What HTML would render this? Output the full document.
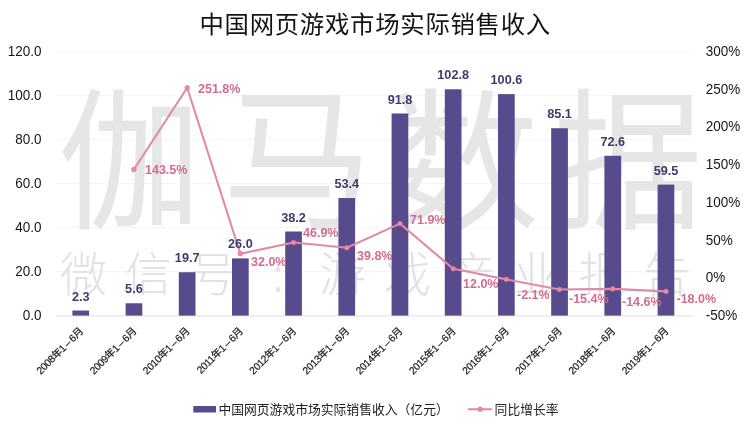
<!DOCTYPE html>
<html lang="zh"><head><meta charset="utf-8"><title>中国网页游戏市场实际销售收入</title>
<style>
html,body{margin:0;padding:0;background:#fff;}
body{width:750px;height:427px;overflow:hidden;font-family:"Liberation Sans","Noto Sans CJK SC",sans-serif;}
svg{display:block}
text{font-family:"Liberation Sans","Noto Sans CJK SC",sans-serif;}
.wm{font-family:"Noto Sans CJK SC",sans-serif;}
</style></head><body>
<svg width="750" height="427" viewBox="0 0 750 427">
<rect width="750" height="427" fill="#ffffff"/>
<line x1="56" x2="693" y1="51.4" y2="51.4" stroke="#f5f5f5" stroke-width="1"/>
<line x1="56" x2="693" y1="95.4" y2="95.4" stroke="#f5f5f5" stroke-width="1"/>
<line x1="56" x2="693" y1="139.5" y2="139.5" stroke="#f5f5f5" stroke-width="1"/>
<line x1="56" x2="693" y1="183.5" y2="183.5" stroke="#f5f5f5" stroke-width="1"/>
<line x1="56" x2="693" y1="227.5" y2="227.5" stroke="#f5f5f5" stroke-width="1"/>
<line x1="56" x2="693" y1="271.6" y2="271.6" stroke="#f5f5f5" stroke-width="1"/>
<line x1="56" x2="693" y1="315.6" y2="315.6" stroke="#f5f5f5" stroke-width="1"/>
<g transform="translate(0,217.3) scale(1,1.018)"><text class="wm" font-size="150" font-weight="400" fill="#e6e6e6"><tspan x="57.9" textLength="142.65" lengthAdjust="spacingAndGlyphs">伽</tspan><tspan x="221.9" font-size="153.4" textLength="151.2" lengthAdjust="spacingAndGlyphs">马</tspan><tspan x="385.3" textLength="154.5" lengthAdjust="spacingAndGlyphs">数</tspan><tspan x="553">据</tspan></text></g>
<text class="wm" x="83.5 148.3 213.1 277.9 342.7 407.5 472.3 537.1 601.9 666.7" y="291" text-anchor="middle" font-size="47" font-weight="300" fill="#e2e2e2">微信号:游戏产业报告</text>
<text x="375.2" y="33.2" text-anchor="middle" font-size="24.4" letter-spacing="0.72" fill="#141414">中国网页游戏市场实际销售收入</text>
<text transform="translate(41.4,319.8) scale(0.95,1)" text-anchor="end" font-size="14.2" fill="#161616">0.0</text>
<text transform="translate(41.4,275.8) scale(0.95,1)" text-anchor="end" font-size="14.2" fill="#161616">20.0</text>
<text transform="translate(41.4,231.7) scale(0.95,1)" text-anchor="end" font-size="14.2" fill="#161616">40.0</text>
<text transform="translate(41.4,187.7) scale(0.95,1)" text-anchor="end" font-size="14.2" fill="#161616">60.0</text>
<text transform="translate(41.4,143.7) scale(0.95,1)" text-anchor="end" font-size="14.2" fill="#161616">80.0</text>
<text transform="translate(41.4,99.6) scale(0.95,1)" text-anchor="end" font-size="14.2" fill="#161616">100.0</text>
<text transform="translate(41.4,55.6) scale(0.95,1)" text-anchor="end" font-size="14.2" fill="#161616">120.0</text>
<text transform="translate(705.8,320.0) scale(0.95,1)" font-size="14.2" fill="#161616">-50%</text>
<text transform="translate(705.8,282.3) scale(0.95,1)" font-size="14.2" fill="#161616">0%</text>
<text transform="translate(705.8,244.5) scale(0.95,1)" font-size="14.2" fill="#161616">50%</text>
<text transform="translate(705.8,206.8) scale(0.95,1)" font-size="14.2" fill="#161616">100%</text>
<text transform="translate(705.8,169.0) scale(0.95,1)" font-size="14.2" fill="#161616">150%</text>
<text transform="translate(705.8,131.3) scale(0.95,1)" font-size="14.2" fill="#161616">200%</text>
<text transform="translate(705.8,93.5) scale(0.95,1)" font-size="14.2" fill="#161616">250%</text>
<text transform="translate(705.8,55.8) scale(0.95,1)" font-size="14.2" fill="#161616">300%</text>
<line x1="56" x2="693" y1="315.9" y2="315.9" stroke="#e3e1ea" stroke-width="1"/>
<rect x="72.40" y="310.54" width="16.7" height="5.06" fill="#574a8d"/>
<rect x="125.60" y="303.27" width="16.7" height="12.33" fill="#574a8d"/>
<rect x="178.80" y="272.23" width="16.7" height="43.37" fill="#574a8d"/>
<rect x="232.00" y="258.36" width="16.7" height="57.24" fill="#574a8d"/>
<rect x="285.20" y="231.50" width="16.7" height="84.10" fill="#574a8d"/>
<rect x="338.40" y="198.03" width="16.7" height="117.57" fill="#574a8d"/>
<rect x="391.60" y="113.49" width="16.7" height="202.11" fill="#574a8d"/>
<rect x="444.80" y="89.27" width="16.7" height="226.33" fill="#574a8d"/>
<rect x="498.00" y="94.11" width="16.7" height="221.49" fill="#574a8d"/>
<rect x="551.20" y="128.24" width="16.7" height="187.36" fill="#574a8d"/>
<rect x="604.40" y="155.76" width="16.7" height="159.84" fill="#574a8d"/>
<rect x="657.60" y="184.60" width="16.7" height="131.00" fill="#574a8d"/>
<polyline points="133.9,169.5 187.2,87.8 240.4,253.7 293.6,242.5 346.8,247.8 400.0,223.6 453.2,268.8 506.4,279.4 559.5,289.5 612.8,288.9 666.0,291.4" fill="none" stroke="#df8ba7" stroke-width="2.1" stroke-linejoin="round" stroke-linecap="round"/>
<circle cx="133.9" cy="169.5" r="2.3" fill="#e58dab" stroke="#d97797" stroke-width="0.8"/>
<circle cx="187.2" cy="87.8" r="2.3" fill="#e58dab" stroke="#d97797" stroke-width="0.8"/>
<circle cx="240.4" cy="253.7" r="2.3" fill="#e58dab" stroke="#d97797" stroke-width="0.8"/>
<circle cx="293.6" cy="242.5" r="2.3" fill="#e58dab" stroke="#d97797" stroke-width="0.8"/>
<circle cx="346.8" cy="247.8" r="2.3" fill="#e58dab" stroke="#d97797" stroke-width="0.8"/>
<circle cx="400.0" cy="223.6" r="2.3" fill="#e58dab" stroke="#d97797" stroke-width="0.8"/>
<circle cx="453.2" cy="268.8" r="2.3" fill="#e58dab" stroke="#d97797" stroke-width="0.8"/>
<circle cx="506.4" cy="279.4" r="2.3" fill="#e58dab" stroke="#d97797" stroke-width="0.8"/>
<circle cx="559.5" cy="289.5" r="2.3" fill="#e58dab" stroke="#d97797" stroke-width="0.8"/>
<circle cx="612.8" cy="288.9" r="2.3" fill="#e58dab" stroke="#d97797" stroke-width="0.8"/>
<circle cx="666.0" cy="291.4" r="2.3" fill="#e58dab" stroke="#d97797" stroke-width="0.8"/>
<text x="80.8" y="300.5" text-anchor="middle" font-size="12.7" font-weight="bold" fill="#403a6c">2.3</text>
<text x="133.9" y="293.3" text-anchor="middle" font-size="12.7" font-weight="bold" fill="#403a6c">5.6</text>
<text x="187.2" y="262.2" text-anchor="middle" font-size="12.7" font-weight="bold" fill="#403a6c">19.7</text>
<text x="240.4" y="248.4" text-anchor="middle" font-size="12.7" font-weight="bold" fill="#403a6c">26.0</text>
<text x="293.6" y="221.5" text-anchor="middle" font-size="12.7" font-weight="bold" fill="#403a6c">38.2</text>
<text x="346.8" y="188.0" text-anchor="middle" font-size="12.7" font-weight="bold" fill="#403a6c">53.4</text>
<text x="400.0" y="103.5" text-anchor="middle" font-size="12.7" font-weight="bold" fill="#403a6c">91.8</text>
<text x="453.2" y="79.3" text-anchor="middle" font-size="12.7" font-weight="bold" fill="#403a6c">102.8</text>
<text x="506.4" y="84.1" text-anchor="middle" font-size="12.7" font-weight="bold" fill="#403a6c">100.6</text>
<text x="559.5" y="118.2" text-anchor="middle" font-size="12.7" font-weight="bold" fill="#403a6c">85.1</text>
<text x="612.8" y="145.8" text-anchor="middle" font-size="12.7" font-weight="bold" fill="#403a6c">72.6</text>
<text x="666.0" y="174.6" text-anchor="middle" font-size="12.7" font-weight="bold" fill="#403a6c">59.5</text>
<text x="145" y="174" text-anchor="start" font-size="12.5" font-weight="bold" fill="#d36c90">143.5%</text>
<text x="198" y="93" text-anchor="start" font-size="12.5" font-weight="bold" fill="#d36c90">251.8%</text>
<text x="251" y="266" text-anchor="start" font-size="12.5" font-weight="bold" fill="#d36c90">32.0%</text>
<text x="303" y="237" text-anchor="start" font-size="12.5" font-weight="bold" fill="#d36c90">46.9%</text>
<text x="357" y="260" text-anchor="start" font-size="12.5" font-weight="bold" fill="#d36c90">39.8%</text>
<text x="410" y="224" text-anchor="start" font-size="12.5" font-weight="bold" fill="#d36c90">71.9%</text>
<text x="463" y="288" text-anchor="start" font-size="12.5" font-weight="bold" fill="#d36c90">12.0%</text>
<text x="517" y="299" text-anchor="start" font-size="12.5" font-weight="bold" fill="#d36c90">-2.1%</text>
<text x="569" y="303" text-anchor="start" font-size="12.5" font-weight="bold" fill="#d36c90">-15.4%</text>
<text x="622" y="305.5" text-anchor="start" font-size="12.5" font-weight="bold" fill="#d36c90">-14.6%</text>
<text x="676.5" y="303" text-anchor="start" font-size="12.5" font-weight="bold" fill="#d36c90">-18.0%</text>
<text transform="translate(83.8,331.8) rotate(-45)" text-anchor="end" font-size="10.3" letter-spacing="-0.35" fill="#1a1a1a" stroke="#1a1a1a" stroke-width="0.2">2008年1<tspan dx="1.7">–</tspan><tspan dx="1.7">6月</tspan></text>
<text transform="translate(137.0,331.8) rotate(-45)" text-anchor="end" font-size="10.3" letter-spacing="-0.35" fill="#1a1a1a" stroke="#1a1a1a" stroke-width="0.2">2009年1<tspan dx="1.7">–</tspan><tspan dx="1.7">6月</tspan></text>
<text transform="translate(190.2,331.8) rotate(-45)" text-anchor="end" font-size="10.3" letter-spacing="-0.35" fill="#1a1a1a" stroke="#1a1a1a" stroke-width="0.2">2010年1<tspan dx="1.7">–</tspan><tspan dx="1.7">6月</tspan></text>
<text transform="translate(243.5,331.8) rotate(-45)" text-anchor="end" font-size="10.3" letter-spacing="-0.35" fill="#1a1a1a" stroke="#1a1a1a" stroke-width="0.2">2011年1<tspan dx="1.7">–</tspan><tspan dx="1.7">6月</tspan></text>
<text transform="translate(296.7,331.8) rotate(-45)" text-anchor="end" font-size="10.3" letter-spacing="-0.35" fill="#1a1a1a" stroke="#1a1a1a" stroke-width="0.2">2012年1<tspan dx="1.7">–</tspan><tspan dx="1.7">6月</tspan></text>
<text transform="translate(349.9,331.8) rotate(-45)" text-anchor="end" font-size="10.3" letter-spacing="-0.35" fill="#1a1a1a" stroke="#1a1a1a" stroke-width="0.2">2013年1<tspan dx="1.7">–</tspan><tspan dx="1.7">6月</tspan></text>
<text transform="translate(403.1,331.8) rotate(-45)" text-anchor="end" font-size="10.3" letter-spacing="-0.35" fill="#1a1a1a" stroke="#1a1a1a" stroke-width="0.2">2014年1<tspan dx="1.7">–</tspan><tspan dx="1.7">6月</tspan></text>
<text transform="translate(456.3,331.8) rotate(-45)" text-anchor="end" font-size="10.3" letter-spacing="-0.35" fill="#1a1a1a" stroke="#1a1a1a" stroke-width="0.2">2015年1<tspan dx="1.7">–</tspan><tspan dx="1.7">6月</tspan></text>
<text transform="translate(509.5,331.8) rotate(-45)" text-anchor="end" font-size="10.3" letter-spacing="-0.35" fill="#1a1a1a" stroke="#1a1a1a" stroke-width="0.2">2016年1<tspan dx="1.7">–</tspan><tspan dx="1.7">6月</tspan></text>
<text transform="translate(562.6,331.8) rotate(-45)" text-anchor="end" font-size="10.3" letter-spacing="-0.35" fill="#1a1a1a" stroke="#1a1a1a" stroke-width="0.2">2017年1<tspan dx="1.7">–</tspan><tspan dx="1.7">6月</tspan></text>
<text transform="translate(615.9,331.8) rotate(-45)" text-anchor="end" font-size="10.3" letter-spacing="-0.35" fill="#1a1a1a" stroke="#1a1a1a" stroke-width="0.2">2018年1<tspan dx="1.7">–</tspan><tspan dx="1.7">6月</tspan></text>
<text transform="translate(669.1,331.8) rotate(-45)" text-anchor="end" font-size="10.3" letter-spacing="-0.35" fill="#1a1a1a" stroke="#1a1a1a" stroke-width="0.2">2019年1<tspan dx="1.7">–</tspan><tspan dx="1.7">6月</tspan></text>
<rect x="193.3" y="406" width="22.7" height="6.5" fill="#574a8d"/>
<text x="218.4" y="413.8" font-size="12.8" fill="#222">中国网页游戏市场实际销售收入（亿元）</text>
<line x1="468.5" x2="491.5" y1="409.2" y2="409.2" stroke="#df8ba7" stroke-width="1.9" stroke-linecap="round"/>
<circle cx="480.2" cy="409.2" r="2.3" fill="#e58dab" stroke="#d97797" stroke-width="0.8"/>
<text x="494.6" y="413.8" font-size="12.8" fill="#222">同比增长率</text>
</svg></body></html>
